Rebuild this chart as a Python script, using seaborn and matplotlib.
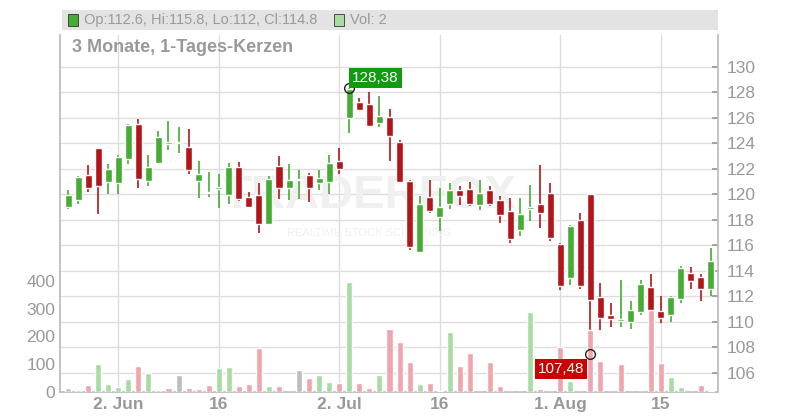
import numpy as np
import pandas as pd
import matplotlib
matplotlib.use("Agg")
import matplotlib.pyplot as plt
import seaborn as sns

opens  = [119.05,119.57,121.53,123.65,121.01,120.93,122.81,125.53,121.08,122.5,123.93,124.01,123.73,121.08,120.11,120.46,119.99,122.16,119.8,119.96,117.66,122.24,120.54,121.13,121.53,120.88,121.01,122.63,
          126.0,127.23,127.1,125.63,126.08,124.11,121.06,115.49,119.8,118.26,119.25,120.35,120.43,119.18,120.35,119.57,118.71,117.24,118.89,119.25,120.12,116.12,113.48,118.0,120.04,111.96,110.55,110.1,110.03,110.81,112.74,110.86,110.58,111.83,113.84,113.53,112.6]
closes = [119.96,121.4,120.54,120.67,122.0,122.91,125.45,121.24,122.13,124.51,124.11,124.12,121.95,121.61,120.2,120.6,122.16,119.67,119.05,117.71,121.22,120.54,121.14,121.16,120.54,121.29,122.47,122.03,
          128.3,126.65,125.4,126.16,124.61,120.95,115.91,119.25,118.68,119.02,120.35,119.91,119.25,120.12,119.25,118.39,116.53,118.47,118.99,118.57,116.61,112.85,117.53,112.85,111.75,110.34,110.26,110.23,110.94,112.98,110.86,110.34,111.96,114.24,113.24,112.61,114.8]
highs  = [120.35,121.45,122.31,123.65,122.39,123.1,125.56,125.92,123.1,124.98,125.76,125.3,125.14,122.63,121.76,121.61,122.47,122.55,120.2,120.9,121.43,123.02,122.39,121.95,121.69,121.92,123.1,123.65,
          128.38,127.54,128.0,127.75,126.71,124.3,121.14,119.88,121.14,120.5,120.9,120.67,120.98,121.14,120.67,119.88,119.73,119.73,120.74,122.31,120.9,116.2,117.61,118.55,120.04,113.06,111.49,113.29,111.65,113.29,113.76,112.04,112.04,114.39,114.31,113.76,115.8]
lows   = [118.84,119.25,120.2,118.47,120.04,120.04,122.42,120.54,120.67,122.44,123.49,123.28,121.63,119.75,119.83,118.97,119.25,119.52,118.97,117.0,117.61,119.67,119.57,119.62,119.44,120.33,120.04,121.58,
          124.85,126.57,125.32,125.32,122.65,120.9,115.67,115.41,118.57,117.1,118.89,119.18,119.1,118.78,119.1,117.79,116.22,116.77,117.95,117.4,116.38,112.54,112.93,112.61,107.48,109.4,109.63,109.63,109.48,110.58,110.42,109.95,110.03,111.52,112.61,111.67,112.0]
volumes = [14,7,25,101,29,18,47,94,68,7,14,61,14,11,25,86,90,22,29,158,22,22,0,79,50,61,36,32,
           396,32,14,61,227,181,108,29,32,4,216,94,140,0,108,22,0,0,288,11,0,162,40,0,223,112,0,101,0,0,296,104,54,18,0,25,2]
vol_colors = ["g","g","r","g","g","g","g","r","g","g","r","y","r","r","r","g","g","r","r","r","g","r","r","y","r","g","g","r",
              "g","r","r","g","r","r","r","g","r","g","g","r","r","r","r","r","r","r","g","r","r","r","g","r","r","r","r","r","r","r","r","r","g","g","r","r","g"]
tick_pos = [5, 15, 27, 37, 49, 59]
tick_labels = ["2. Jun", "16", "2. Jul", "16", "1. Aug", "15"]

n = len(opens)
cmap = {"g": "#a9dca5", "r": "#f0a5ad", "y": "#bdbdbd"}

sns.set_theme(style="white")
plt.rcParams["font.family"] = ["Liberation Sans", "DejaVu Sans"]
fig = plt.figure(figsize=(8, 4.2), dpi=100)
axv = fig.add_axes([60/800, 28/420, 658/800, 357/420])
axp = axv.twinx()

df = pd.DataFrame({"i": np.arange(n), "v": volumes, "c": vol_colors})
sns.barplot(data=df, x="i", y="v", hue="i", palette=[cmap[c] for c in vol_colors],
            legend=False, ax=axv, width=0.6, saturation=1)
axv.set_ylim(0, 1286)
axv.set_xlim(-0.8, n - 0.3)
axv.set_yticks([0, 100, 200, 300, 400])
axv.yaxis.tick_left()
axv.set_xlabel(""); axv.set_ylabel("")
axv.set_xticks(tick_pos)
axv.set_xticklabels(tick_labels)
axv.tick_params(axis="both", colors="#999999", labelsize=12.5, length=0)
for t in axv.get_xticklabels():
    t.set_fontweight("bold")
axv.grid(False)

axp.set_ylim(104.51, 132.5)
axp.set_yticks(range(106, 131, 2))
axp.tick_params(axis="y", colors="#999999", labelsize=12.5, length=4, direction="in", pad=6)
axp.grid(True, axis="y", color="#dddddd", lw=1)
for p in tick_pos:
    axp.axvline(p, color="#dddddd", lw=1, zorder=0)
axp.set_zorder(axv.get_zorder() - 1)
axv.patch.set_visible(False)
axp.patch.set_visible(True)
axp.patch.set_facecolor("white")

for i in range(n):
    col = "#46ac34" if closes[i] >= opens[i] else "#b3161a"
    axp.vlines(i, lows[i], highs[i], color=col, lw=1.2, zorder=3)
    lo, hi = min(opens[i], closes[i]), max(opens[i], closes[i])
    axp.bar(i, max(hi - lo, 0.08), bottom=lo, width=0.7, color=col, zorder=4)

for ax in (axv, axp):
    for s in ax.spines.values():
        s.set_visible(False)
for side in ("right", "bottom", "left"):
    axp.spines[side].set_visible(True); axp.spines[side].set_color("#bbbbbb")

axp.text(30, 119.9, "TRADERFOX", fontsize=34, color="#f0f0f0", fontweight="bold", ha="center", va="center", zorder=1)
axp.text(30, 117.0, "REALTIME STOCK SCREENING", fontsize=8, color="#f0f0f0", ha="center", va="center", zorder=1)

# annotations drawn on the top axes, placed in price coordinates
hi_i = int(np.argmax(highs)); lo_i = int(np.argmin(lows))
tp = axp.transData
axv.plot(hi_i, highs[hi_i], "o", mfc="none", mec="#222222", ms=7, zorder=6, transform=tp)
axv.text(hi_i + 0.3, highs[hi_i] + 0.75, "128,38", color="white", fontsize=11, va="center",
         bbox=dict(boxstyle="square,pad=0.2", fc="#109b10", ec="none"), zorder=7, transform=tp)
axv.plot(lo_i, lows[lo_i], "o", mfc="none", mec="#222222", ms=7, zorder=6, transform=tp)
axv.text(lo_i - 0.6, lows[lo_i] - 1.2, "107,48", color="white", fontsize=11, va="center", ha="right",
         bbox=dict(boxstyle="square,pad=0.2", fc="#cc0000", ec="none"), zorder=7, transform=tp)

fig.patches.append(plt.Rectangle((62/800, 390/420), 656/800, 20/420, transform=fig.transFigure,
                                 fc="#e3e3e3", ec="none"))
fig.patches.append(plt.Rectangle((68/800, 394/420), 10/800, 12/420, transform=fig.transFigure,
                                 fc="#46ac34", ec="#333333", lw=0.6))
fig.text(84/800, 400/420, "Op:112.6, Hi:115.8, Lo:112, Cl:114.8", fontsize=10.5, color="#9a9a9a", va="center")
fig.patches.append(plt.Rectangle((334/800, 394/420), 10/800, 12/420, transform=fig.transFigure,
                                 fc="#a9dca5", ec="#333333", lw=0.6))
fig.text(350/800, 400/420, "Vol: 2", fontsize=10.5, color="#9a9a9a", va="center")
fig.text(72/800, 373/420, "3 Monate, 1-Tages-Kerzen", fontsize=13, color="#999999", fontweight="bold", va="center")

fig.savefig("out.png", dpi=100)
